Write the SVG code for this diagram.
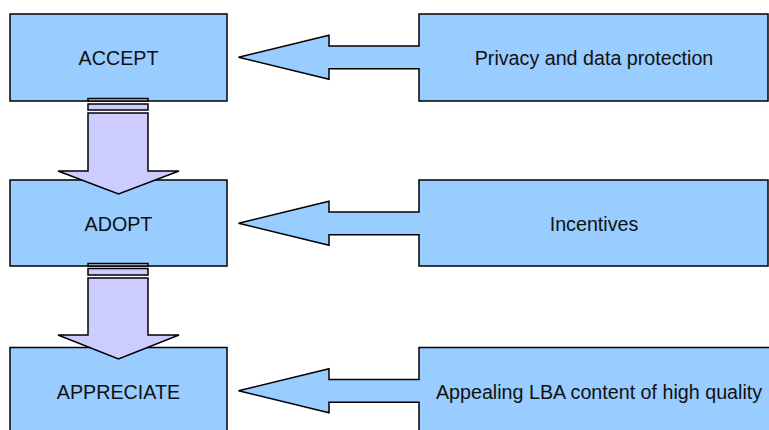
<svg xmlns="http://www.w3.org/2000/svg" width="769" height="430" viewBox="0 0 769 430">
  <style>
    .box { fill: #99CCFF; stroke: #000; stroke-width: 1.5; }
    .flow { fill: #CCCCFF; stroke: #000; stroke-width: 1.5; stroke-linejoin: miter; }
    .lbl { font-family: "Liberation Sans", Arial, sans-serif; font-size: 19.7px; fill: #111; text-anchor: middle; }
  </style>
  <rect width="769" height="430" fill="#fff"/>

  <!-- stage boxes on the left -->
  <g id="accept">
    <rect class="box" x="10" y="14" width="217" height="87"/>
    <text class="lbl" x="118.5" y="65">ACCEPT</text>
  </g>
  <g id="adopt">
    <rect class="box" x="10" y="180" width="217" height="86"/>
    <text class="lbl" x="118.5" y="231">ADOPT</text>
  </g>
  <g id="appreciate">
    <rect class="box" x="10" y="347.5" width="217" height="100"/>
    <text class="lbl" x="118.5" y="398.5">APPRECIATE</text>
  </g>

  <!-- factor boxes on the right, each joined to an arrow pointing left -->
  <g id="privacy">
    <path class="box" d="M419,14 H768 V101 H419 V68.7 H329 V79.3 L238.5,57.3 L329,35.3 V46 H419 Z"/>
    <text class="lbl" x="594" y="65">Privacy and data protection</text>
  </g>
  <g id="incentives">
    <path class="box" d="M419,180 H768 V266 H419 V234.7 H329 V245.3 L238.5,223.3 L329,201.3 V212 H419 Z"/>
    <text class="lbl" x="594" y="231">Incentives</text>
  </g>
  <g id="content">
    <path class="box" d="M419,347.5 H790 V440 H419 V402.2 H329 V412.8 L238.5,390.8 L329,368.8 V379.5 H419 Z"/>
    <text class="lbl" x="599" y="398.5">Appealing LBA content of high quality</text>
  </g>

  <!-- downward flow arrows between stages -->
  <g id="connectors">
    <g id="accept-to-adopt">
      <rect class="flow" x="88" y="98.5" width="60" height="2.5"/>
      <rect class="flow" x="88" y="104" width="60" height="6"/>
      <path class="flow" d="M88,113 H148 V171 H179 L118.5,194 L58,171 H88 Z"/>
    </g>
    <g id="adopt-to-appreciate">
      <rect class="flow" x="88" y="263.5" width="60" height="2.5"/>
      <rect class="flow" x="88" y="268.5" width="60" height="6.5"/>
      <path class="flow" d="M88,278 H148 V335 H179 L118.5,359 L58,335 H88 Z"/>
    </g>
  </g>
</svg>
